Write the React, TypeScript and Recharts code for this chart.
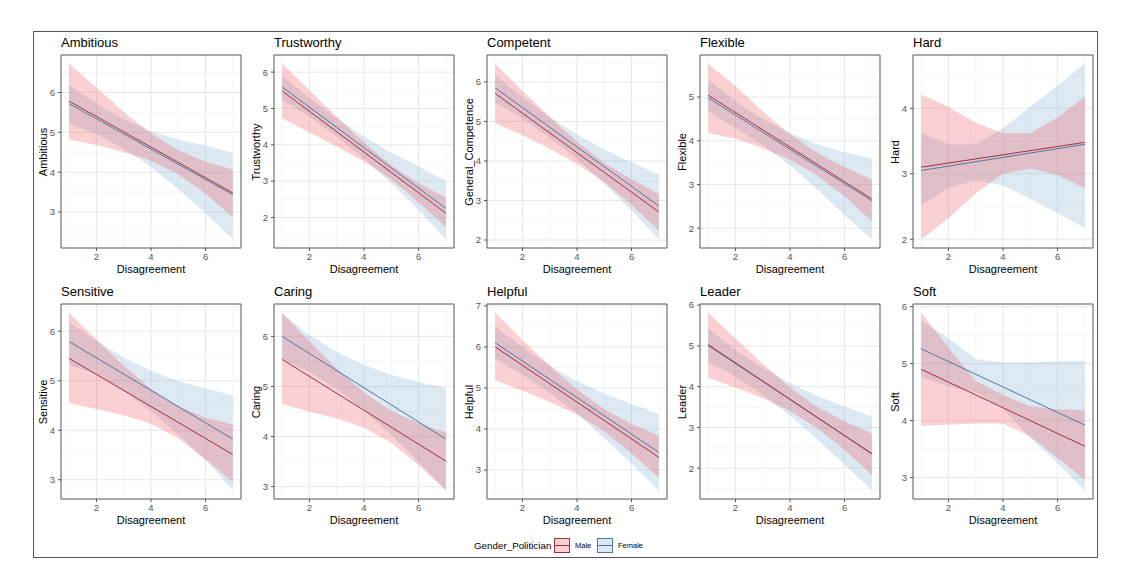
import React from "react";
import {
  ComposedChart,
  Area,
  Line,
  XAxis,
  YAxis,
  CartesianGrid,
  ReferenceArea,
} from "recharts";

const disagreement = [1, 2, 3, 4, 5, 6, 7];
const xTicks = [2, 4, 6];
const xMinor = [1, 3, 5, 7];

const panelTitles = ["Ambitious", "Trustworthy", "Competent", "Flexible", "Hard", "Sensitive", "Caring", "Helpful", "Leader", "Soft"];
const yAxisTitles = ["Ambitious", "Trustworthy", "General_Competence", "Flexible", "Hard", "Sensitive", "Caring", "Helpful", "Leader", "Soft"];
const yTicks = [
  [3, 4, 5, 6],
  [2, 3, 4, 5, 6],
  [2, 3, 4, 5, 6],
  [2, 3, 4, 5],
  [2, 3, 4],
  [3, 4, 5, 6],
  [3, 4, 5, 6],
  [3, 4, 5, 6, 7],
  [2, 3, 4, 5, 6],
  [3, 4, 5, 6],
];

const legendTitle = "Gender_Politician";
const genders = ["Male", "Female"];

// fitted line, value at Disagreement = 1 and = 7
const maleFitStart = [5.78, 5.48, 5.71, 5.04, 3.1, 5.45, 5.54, 6.0, 5.03, 4.9];
const maleFitEnd = [3.48, 2.12, 2.71, 2.67, 3.48, 3.51, 3.51, 3.31, 2.35, 3.55];
const femaleFitStart = [5.72, 5.59, 5.85, 4.98, 3.05, 5.79, 6.0, 6.1, 5.01, 5.26];
const femaleFitEnd = [3.44, 2.25, 2.86, 2.63, 3.45, 3.82, 3.95, 3.43, 2.36, 3.92];

// confidence bands at Disagreement 1..7
const maleHigh = [
  [6.72, 6.12, 5.51, 4.97, 4.55, 4.26, 4.07],
  [6.23, 5.5, 4.77, 4.06, 3.43, 2.94, 2.55],
  [6.46, 5.77, 5.11, 4.49, 3.95, 3.53, 3.17],
  [5.76, 5.25, 4.67, 4.15, 3.72, 3.4, 3.11],
  [4.21, 4.02, 3.78, 3.62, 3.62, 3.86, 4.18],
  [6.37, 5.83, 5.3, 4.83, 4.48, 4.25, 4.12],
  [6.47, 5.9, 5.36, 4.88, 4.51, 4.27, 4.08],
  [6.83, 6.17, 5.54, 4.96, 4.48, 4.12, 3.84],
  [5.81, 5.18, 4.56, 3.98, 3.5, 3.15, 2.85],
  [5.89, 5.28, 4.7, 4.45, 4.25, 4.2, 4.18],
];
const maleLow = [
  [4.82, 4.68, 4.51, 4.29, 3.95, 3.46, 2.87],
  [4.73, 4.34, 3.95, 3.54, 3.05, 2.42, 1.73],
  [4.96, 4.65, 4.31, 3.93, 3.47, 2.89, 2.23],
  [4.18, 4.05, 3.83, 3.57, 3.2, 2.74, 2.16],
  [2.0, 2.32, 2.7, 3.0, 3.08, 2.98, 2.78],
  [4.55, 4.43, 4.3, 4.13, 3.84, 3.41, 2.96],
  [4.65, 4.5, 4.36, 4.18, 3.87, 3.43, 2.93],
  [5.19, 4.93, 4.66, 4.36, 3.94, 3.4, 2.82],
  [4.22, 3.98, 3.72, 3.4, 2.98, 2.45, 1.84],
  [3.91, 3.93, 3.95, 3.95, 3.72, 3.35, 2.96],
];
const femaleHigh = [
  [6.19, 5.72, 5.33, 5.03, 4.82, 4.67, 4.48],
  [5.91, 5.29, 4.73, 4.22, 3.78, 3.41, 3.0],
  [6.17, 5.62, 5.11, 4.67, 4.29, 3.97, 3.66],
  [5.4, 4.9, 4.5, 4.18, 3.92, 3.74, 3.6],
  [3.62, 3.45, 3.45, 3.7, 4.02, 4.35, 4.68],
  [6.18, 5.8, 5.47, 5.2, 4.99, 4.85, 4.7],
  [6.45, 6.03, 5.69, 5.43, 5.23, 5.09, 4.97],
  [6.5, 5.99, 5.54, 5.17, 4.86, 4.61, 4.37],
  [5.43, 4.9, 4.46, 4.09, 3.77, 3.51, 3.26],
  [5.75, 5.45, 5.08, 5.02, 5.02, 5.04, 5.05],
];
const femaleLow = [
  [5.21, 4.96, 4.59, 4.13, 3.58, 2.97, 2.32],
  [5.23, 4.77, 4.23, 3.62, 2.94, 2.21, 1.4],
  [5.48, 5.08, 4.59, 4.05, 3.43, 2.75, 2.02],
  [4.68, 4.29, 3.9, 3.44, 2.9, 2.3, 1.75],
  [2.52, 2.78, 2.9, 2.82, 2.62, 2.4, 2.17],
  [5.32, 5.12, 4.79, 4.39, 3.91, 3.4, 2.79],
  [5.55, 5.29, 4.95, 4.53, 4.03, 3.49, 2.93],
  [5.71, 5.33, 4.88, 4.37, 3.78, 3.15, 2.51],
  [4.61, 4.24, 3.8, 3.29, 2.71, 2.09, 1.46],
  [4.77, 4.6, 4.5, 4.2, 3.7, 3.25, 2.78],
];

const FONT = '"Liberation Sans", Arial, Helvetica, sans-serif';
const MALE_LINE = "#a3303f";
const FEMALE_LINE = "#5077a8";
const MALE_FILL = "rgb(236,68,76)";
const FEMALE_FILL = "rgb(116,168,208)";
const BAND_OPACITY = 0.25;
const BORDER = "#555";

const colLefts = [61, 274, 487, 700, 913];
const rowTops = [55, 304];
const rowHeights = [193, 195];
const PLOT_W = 180;
const Y_AXIS_W = 20;
const X_AXIS_H = 18;
const TOP_PAD = 6;
const RIGHT_PAD = 3;

function Panel({ idx, plotLeft, plotTop, plotH }: { idx: number; plotLeft: number; plotTop: number; plotH: number }) {
  const last = disagreement.length - 1;
  const rows = disagreement.map((x, k) => ({
    x,
    maleBand: [maleLow[idx][k], maleHigh[idx][k]],
    femaleBand: [femaleLow[idx][k], femaleHigh[idx][k]],
    male: k === 0 ? maleFitStart[idx] : k === last ? maleFitEnd[idx] : null,
    female: k === 0 ? femaleFitStart[idx] : k === last ? femaleFitEnd[idx] : null,
  }));

  // ggplot-style 5% expansion of the y range
  const all = [...maleLow[idx], ...maleHigh[idx], ...femaleLow[idx], ...femaleHigh[idx]];
  const lo = Math.min(...all);
  const hi = Math.max(...all);
  const pad = (hi - lo) * 0.05;
  const yDomain = [lo - pad, hi + pad];
  const yMinor: number[] = [];
  for (let t = Math.floor(yDomain[0]); t <= Math.ceil(yDomain[1]); t++) {
    const v = t + 0.5;
    if (v > yDomain[0] && v < yDomain[1]) yMinor.push(v);
  }
  const majorY = yTicks[idx].filter((v) => v > yDomain[0] && v < yDomain[1]);

  const textStyle: React.CSSProperties = { position: "absolute", fontFamily: FONT, whiteSpace: "nowrap", color: "#000" };

  return (
    <>
      <div style={{ ...textStyle, left: plotLeft, top: plotTop - 20, fontSize: 13, lineHeight: "16px" }}>
        {panelTitles[idx]}
      </div>
      <div
        style={{
          ...textStyle,
          left: plotLeft - 18,
          top: plotTop + plotH / 2,
          fontSize: 11,
          lineHeight: "13px",
          transform: "translate(-50%, -50%) rotate(-90deg)",
        }}
      >
        {yAxisTitles[idx]}
      </div>
      <div
        style={{
          ...textStyle,
          left: plotLeft + PLOT_W / 2,
          top: plotTop + plotH + 15,
          fontSize: 11,
          lineHeight: "13px",
          transform: "translateX(-50%)",
        }}
      >
        Disagreement
      </div>
      <div style={{ position: "absolute", left: plotLeft - Y_AXIS_W, top: plotTop - TOP_PAD }}>
        <ComposedChart
          width={Y_AXIS_W + PLOT_W + RIGHT_PAD}
          height={TOP_PAD + plotH + X_AXIS_H}
          data={rows}
          margin={{ top: TOP_PAD, right: RIGHT_PAD, bottom: 0, left: 0 }}
        >
          <CartesianGrid stroke="#f4f4f4" strokeWidth={0.8} verticalValues={xMinor} horizontalValues={yMinor} />
          <CartesianGrid stroke="#e8e8e8" verticalValues={xTicks} horizontalValues={majorY} />
          <XAxis
            dataKey="x"
            type="number"
            domain={[0.7, 7.3]}
            ticks={xTicks}
            interval={0}
            height={X_AXIS_H}
            axisLine={false}
            tickSize={3}
            tickMargin={2}
            tickLine={{ stroke: BORDER }}
            tick={{ fill: "#555", fontSize: 9.5, fontFamily: FONT }}
          />
          <YAxis
            type="number"
            domain={yDomain}
            allowDataOverflow
            ticks={yTicks[idx]}
            interval={0}
            width={Y_AXIS_W}
            axisLine={false}
            tickSize={3}
            tickMargin={3}
            tickLine={{ stroke: BORDER }}
            tick={{ fill: "#555", fontSize: 9.5, fontFamily: FONT }}
          />
          <Area
            type="linear"
            dataKey="femaleBand"
            stroke="none"
            fill={FEMALE_FILL}
            fillOpacity={BAND_OPACITY}
            isAnimationActive={false}
            activeDot={false}
          />
          <Area
            type="linear"
            dataKey="maleBand"
            stroke="none"
            fill={MALE_FILL}
            fillOpacity={BAND_OPACITY}
            isAnimationActive={false}
            activeDot={false}
          />
          <Line
            type="linear"
            dataKey="female"
            stroke={FEMALE_LINE}
            strokeWidth={1}
            dot={false}
            activeDot={false}
            connectNulls
            isAnimationActive={false}
          />
          <Line
            type="linear"
            dataKey="male"
            stroke={MALE_LINE}
            strokeWidth={1}
            dot={false}
            activeDot={false}
            connectNulls
            isAnimationActive={false}
          />
          <ReferenceArea
            x1={0.7}
            x2={7.3}
            y1={yDomain[0]}
            y2={yDomain[1]}
            fill="none"
            stroke={BORDER}
            strokeWidth={1}
            ifOverflow="visible"
          />
        </ComposedChart>
      </div>
    </>
  );
}

function LegendKey({ left, fill, line }: { left: number; fill: string; line: string }) {
  return (
    <svg style={{ position: "absolute", left, top: 538 }} width={16} height={15}>
      <rect x={0.5} y={0.5} width={15} height={14} fill={fill} fillOpacity={BAND_OPACITY} stroke={line} strokeWidth={1} />
      <line x1={0.5} x2={15.5} y1={7.5} y2={7.5} stroke={line} strokeWidth={1} />
    </svg>
  );
}

export default function App() {
  return (
    <div style={{ position: "absolute", left: 0, top: 0, width: 1142, height: 583, background: "#fff" }}>
      <div
        style={{
          position: "absolute",
          left: 33,
          top: 31,
          width: 1065,
          height: 527,
          border: "1px solid #555",
          boxSizing: "border-box",
        }}
      />
      {panelTitles.map((_, i) => {
        const r = Math.floor(i / 5);
        const c = i % 5;
        return <Panel key={i} idx={i} plotLeft={colLefts[c]} plotTop={rowTops[r]} plotH={rowHeights[r]} />;
      })}
      <div style={{ position: "absolute", left: 474, top: 540, fontFamily: FONT, fontSize: 9.8, lineHeight: "12px" }}>
        {legendTitle}
      </div>
      <LegendKey left={554} fill={MALE_FILL} line={MALE_LINE} />
      <div style={{ position: "absolute", left: 575, top: 541, fontFamily: FONT, fontSize: 7.5, lineHeight: "10px" }}>
        {genders[0]}
      </div>
      <LegendKey left={597} fill={FEMALE_FILL} line={FEMALE_LINE} />
      <div style={{ position: "absolute", left: 618, top: 541, fontFamily: FONT, fontSize: 7.5, lineHeight: "10px" }}>
        {genders[1]}
      </div>
    </div>
  );
}
